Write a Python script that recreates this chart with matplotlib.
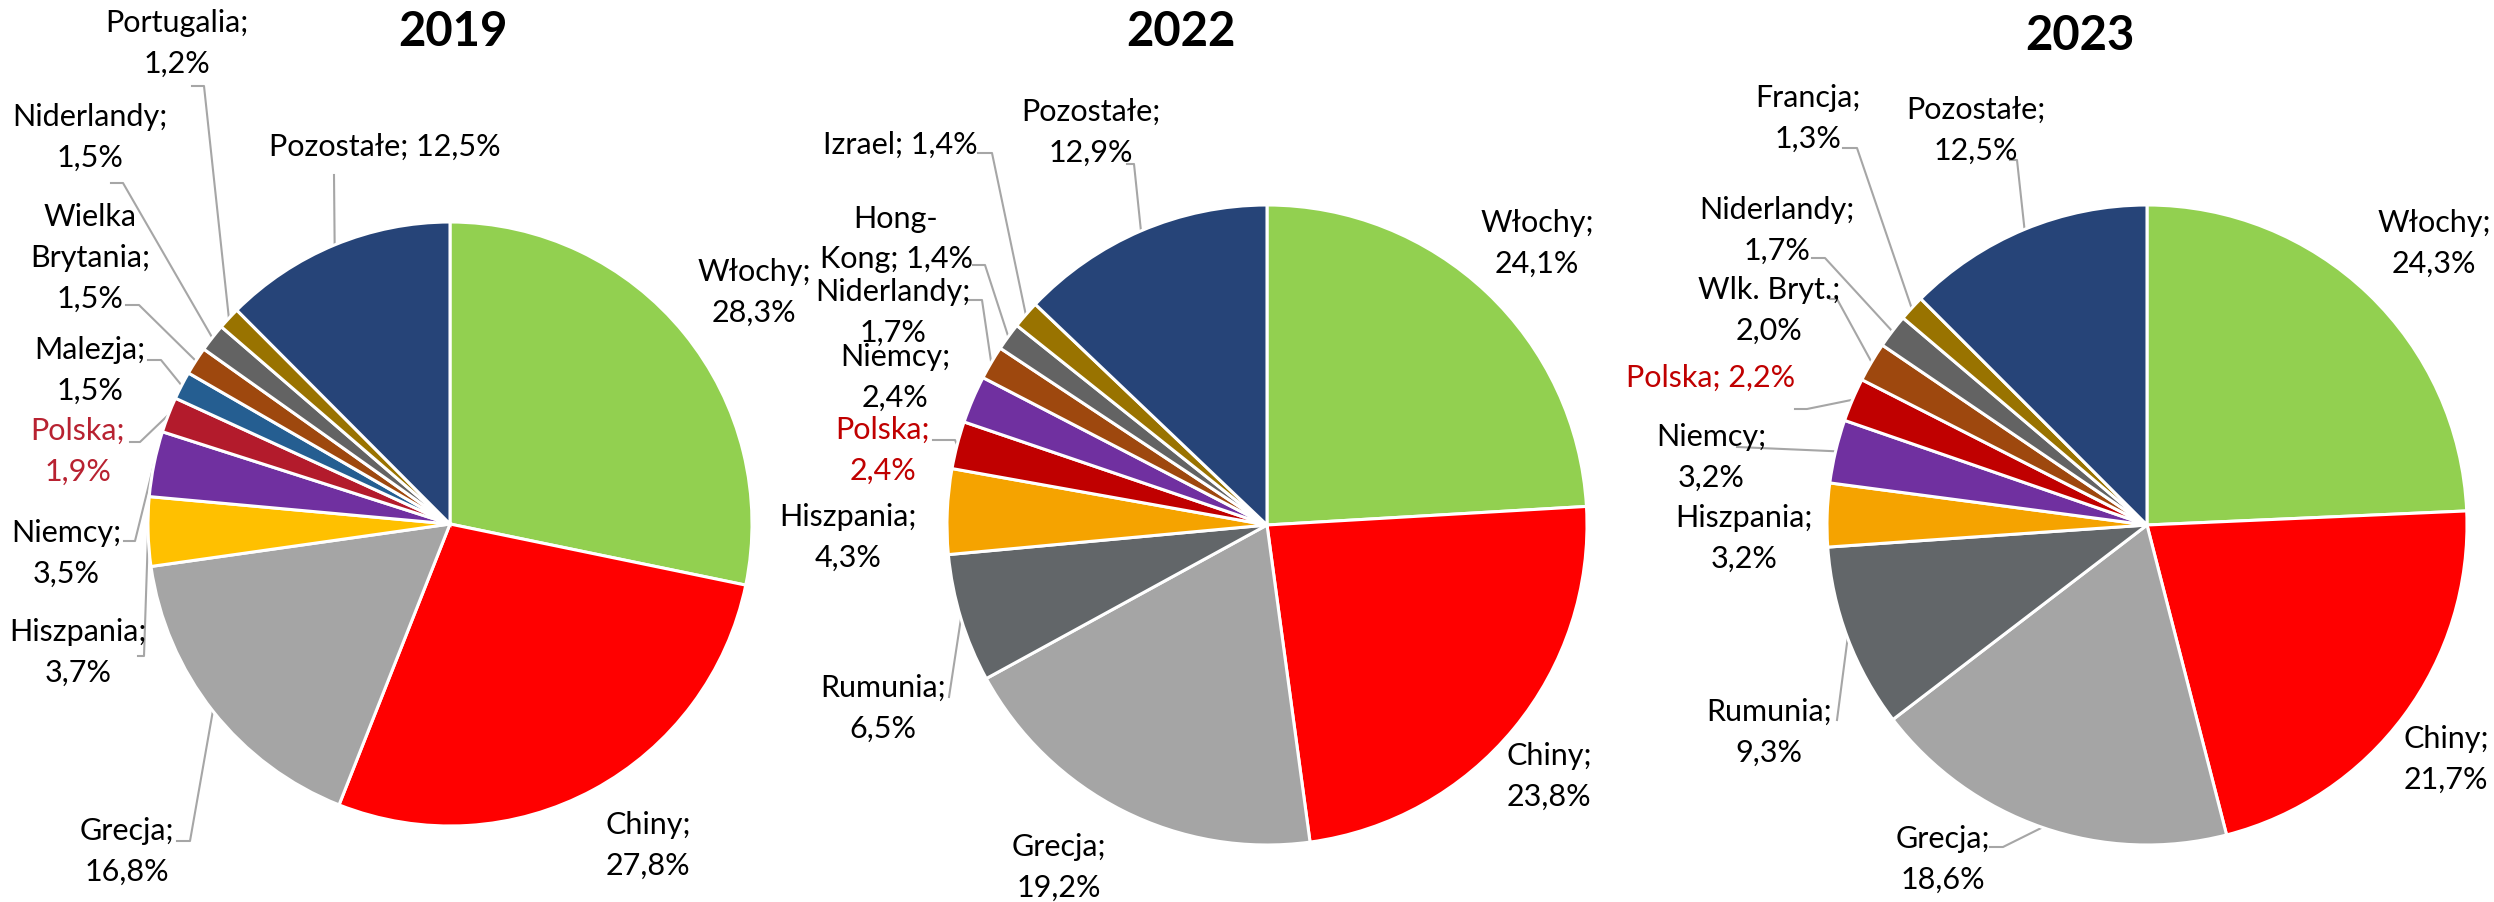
import numpy as np
import matplotlib.pyplot as plt

W, H = 2494, 902

years = ['2019', '2022', '2023']

countries_2019 = ['Włochy', 'Chiny', 'Grecja', 'Hiszpania', 'Niemcy', 'Polska', 'Malezja',
                  'Wielka\nBrytania', 'Niderlandy', 'Portugalia', 'Pozostałe']
shares_2019 = [28.3, 27.8, 16.8, 3.7, 3.5, 1.9, 1.5, 1.5, 1.5, 1.2, 12.5]

countries_2022 = ['Włochy', 'Chiny', 'Grecja', 'Rumunia', 'Hiszpania', 'Polska', 'Niemcy',
                  'Niderlandy', 'Hong-\nKong', 'Izrael', 'Pozostałe']
shares_2022 = [24.1, 23.8, 19.2, 6.5, 4.3, 2.4, 2.4, 1.7, 1.4, 1.4, 12.9]

countries_2023 = ['Włochy', 'Chiny', 'Grecja', 'Rumunia', 'Hiszpania', 'Niemcy', 'Polska',
                  'Wlk. Bryt.', 'Niderlandy', 'Francja', 'Pozostałe']
shares_2023 = [24.3, 21.7, 18.6, 9.3, 3.2, 3.2, 2.2, 2.0, 1.7, 1.3, 12.5]

# colours
colors_2019 = ['#92D050', '#FF0000', '#A5A5A5', '#FFC000', '#7030A0', '#B31B2C', '#255E91',
               '#9E480E', '#636363', '#997300', '#264478']
colors_2022 = ['#92D050', '#FF0000', '#A5A5A5', '#626669', '#F5A300', '#C00000', '#7030A0',
               '#9E480E', '#636363', '#997300', '#264478']
colors_2023 = ['#92D050', '#FF0000', '#A5A5A5', '#626669', '#F5A300', '#7030A0', '#C00000',
               '#9E480E', '#636363', '#997300', '#264478']
polska_text = ['#B82231', '#C00000', '#C00000']

# layout in pixels (y from top): pie centre + radius, title position
pie_pos = [(450, 524, 302), (1267, 525, 320), (2147, 525, 320)]
title_pos = [(453, 32), (1181, 32), (2080, 36)]

# label position, separator, leader line points (ending at slice edge)
labels_2019 = [(754, 292, '\n', None), (648, 845, '\n', None),
               (127, 851, '\n', [(177, 841), (190, 841)]),
               (78, 652, '\n', [(138, 656), (144, 656)]),
               (66, 553, '\n', [(124, 541), (135, 541)]),
               (78, 451, '\n', [(130, 442), (140, 442)]),
               (90, 370, '\n', [(148, 360), (161, 360)]),
               (90, 258, '\n', [(126, 305), (139, 305)]),
               (90, 137, '\n', [(111, 183), (123, 183)]),
               (177, 43, '\n', [(192, 86), (204, 86)]),
               (385, 147, ' ', [(334, 175)])]
labels_2022 = [(1537, 243, '\n', None), (1549, 776, '\n', None), (1059, 867, '\n', None),
               (883, 708, '\n', [(949, 697)]),
               (848, 537, '\n', None),
               (883, 450, '\n', [(933, 440), (955, 440)]),
               (895, 377, '\n', None),
               (893, 312, '\n', [(968, 300), (982, 300)]),
               (896, 239, ' ', [(973, 265), (985, 265)]),
               (900, 145, ' ', [(978, 153), (992, 153)]),
               (1091, 132, '\n', [(1127, 164), (1134, 164)])]
labels_2023 = [(2434, 243, '\n', None), (2446, 759, '\n', None),
               (1943, 859, '\n', [(1990, 847), (2003, 847)]),
               (1769, 732, '\n', [(1837, 720)]),
               (1744, 538, '\n', None),
               (1711, 457, '\n', [(1737, 447)]),
               (1711, 378, ' ', [(1795, 409), (1807, 409)]),
               (1769, 310, '\n', [(1830, 299), (1837, 299)]),
               (1777, 230, '\n', [(1812, 258), (1825, 258)]),
               (1808, 118, '\n', [(1843, 148), (1857, 148)]),
               (1976, 130, '\n', [(2010, 160), (2017, 160)])]

all_countries = [countries_2019, countries_2022, countries_2023]
all_shares = [shares_2019, shares_2022, shares_2023]
all_colors = [colors_2019, colors_2022, colors_2023]
all_labels = [labels_2019, labels_2022, labels_2023]

plt.rcParams['font.family'] = ['Lato', 'DejaVu Sans']

fig = plt.figure(figsize=(W / 100, H / 100), dpi=100)
ax = fig.add_axes([0, 0, 1, 1])

for i in range(3):
    cx, cy, r = pie_pos[i]
    cy = H - cy
    shares = all_shares[i]
    ax.pie(shares, colors=all_colors[i], startangle=90, counterclock=False,
           center=(cx, cy), radius=r,
           wedgeprops=dict(edgecolor='white', linewidth=2.2))

    tx, ty = title_pos[i]
    ax.text(tx, H - ty, years[i], fontsize=34, fontweight='bold',
            ha='center', va='center')

    total = sum(shares)
    cum = np.cumsum(shares) - np.array(shares) / 2
    for name, val, mid, lab in zip(all_countries[i], shares, cum, all_labels[i]):
        lx, ly, sep, leader = lab
        pct = f"{val:.1f}%".replace('.', ',')
        txt = f"{name};{sep}{pct}"
        col = polska_text[i] if name == 'Polska' else 'black'
        ax.text(lx, H - ly, txt, fontsize=22, ha='center', va='center',
                color=col, linespacing=1.55)
        if leader:
            ang = np.deg2rad(90 - 360 * mid / total)
            px, py = cx + r * np.cos(ang), cy + r * np.sin(ang)
            xs = [p[0] for p in leader] + [px]
            ys = [H - p[1] for p in leader] + [py]
            ax.plot(xs, ys, color='#A6A6A6', lw=1.5, zorder=0)

ax.set_xlim(0, W)
ax.set_ylim(0, H)
ax.set_aspect('equal')
ax.axis('off')

fig.savefig('out.png', dpi=100)
